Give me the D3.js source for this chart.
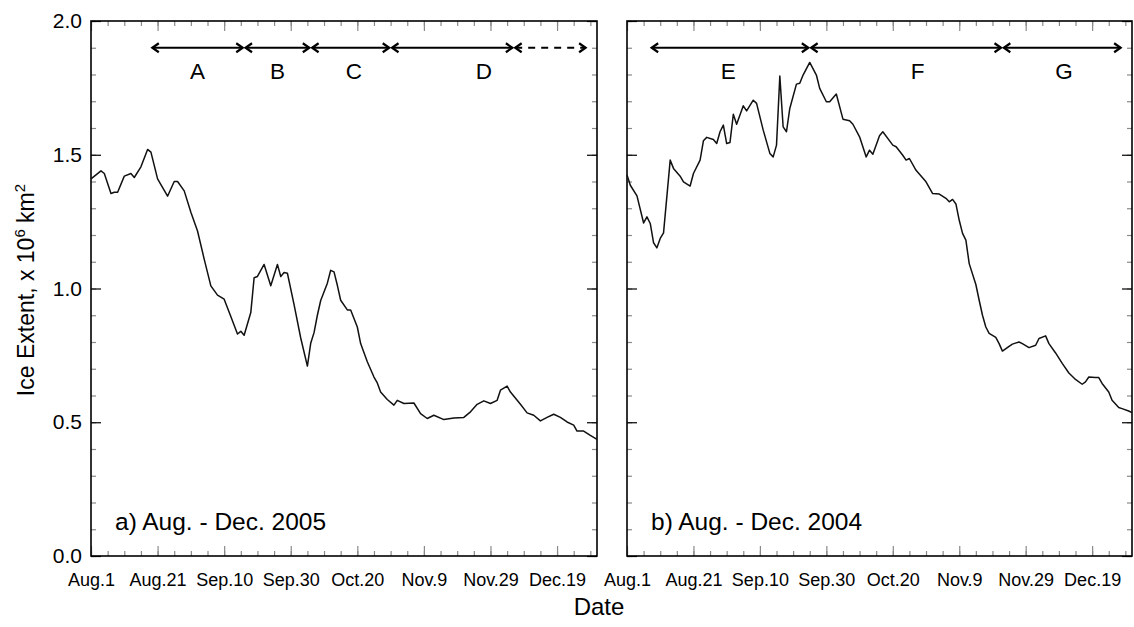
<!DOCTYPE html>
<html>
<head>
<meta charset="utf-8">
<script src="https://cdn.jsdelivr.net/npm/d3@7"></script>
<style>
  body { margin: 0; background: #fff; }
  text { font-family: "Liberation Sans", Arial, sans-serif; fill: #000; }
</style>
</head>
<body>
<svg id="chart" width="1134" height="627"></svg>
<script>
// Daily ice extent (x 10^6 km^2), day 0 = Aug. 1
const days2005 = [0,3,4,6,7,8,10,12,13,15,17,18,20,23,25,26,28,30,32,34,36,38,40,42,44,45,46,48,49,50,52,54,56,57,58,59,61,63,65,66,67,68,69,71,72,73,74,75,77,78,80,81,83,85,86,87,89,91,92,94,97,99,101,103,106,109,112,114,116,118,120,122,123,125,126,129,131,133,135,137,139,141,143,145,146,148,150,152];
const ice2005 = [1.41,1.44,1.43,1.355,1.36,1.36,1.42,1.43,1.415,1.455,1.52,1.51,1.41,1.345,1.40,1.40,1.365,1.285,1.215,1.11,1.01,0.975,0.96,0.895,0.83,0.84,0.825,0.91,1.04,1.045,1.09,1.01,1.09,1.045,1.06,1.057,0.94,0.815,0.71,0.795,0.835,0.90,0.955,1.02,1.068,1.062,1.012,0.956,0.92,0.92,0.856,0.794,0.726,0.669,0.647,0.613,0.585,0.564,0.582,0.57,0.572,0.532,0.514,0.526,0.51,0.516,0.518,0.539,0.567,0.58,0.57,0.582,0.62,0.635,0.613,0.567,0.535,0.526,0.505,0.518,0.53,0.518,0.501,0.489,0.467,0.467,0.451,0.436];

const days2004 = [0,1,3,5,6,7,8,9,10,11,13,14,16,17,19,20,22,23,24,26,27,28,29,30,31,32,33,35,36,38,39,41,43,44,45,46,47,48,49,51,52,53,55,57,58,60,61,63,65,67,68,70,72,73,74,76,77,80,81,83,84,85,87,90,92,94,96,97,98,99,100,101,102,103,105,106,107,108,109,111,112,113,115,116,118,119,121,123,124,126,127,129,131,133,135,137,138,139,141,142,143,145,146,148,149,151,152];
const ice2004 = [1.424,1.386,1.346,1.245,1.268,1.243,1.171,1.152,1.187,1.208,1.48,1.449,1.42,1.399,1.383,1.43,1.48,1.552,1.565,1.557,1.542,1.586,1.611,1.542,1.546,1.651,1.614,1.683,1.664,1.704,1.692,1.592,1.505,1.492,1.536,1.794,1.604,1.586,1.673,1.764,1.767,1.798,1.845,1.798,1.748,1.698,1.698,1.727,1.633,1.627,1.614,1.567,1.492,1.517,1.502,1.571,1.586,1.536,1.53,1.498,1.48,1.486,1.442,1.399,1.355,1.353,1.337,1.324,1.333,1.316,1.255,1.206,1.181,1.093,1.015,0.956,0.90,0.856,0.832,0.817,0.794,0.766,0.784,0.792,0.80,0.794,0.779,0.788,0.813,0.823,0.794,0.759,0.72,0.684,0.66,0.642,0.651,0.669,0.667,0.667,0.645,0.613,0.582,0.555,0.551,0.542,0.536];

// Axis ticks
const yTickValues = [0, 0.5, 1.0, 1.5, 2.0];
const dateTickDays = [0, 20, 40, 60, 80, 100, 120, 140];
const dateTickLabels = ["Aug.1","Aug.21","Sep.10","Sep.30","Oct.20","Nov.9","Nov.29","Dec.19"];

// Ice-period bands drawn as arrows at the top of each panel
const periodNames2005 = ["A","B","C","D",""];
const periodStart2005 = [18,46,66,90,127];
const periodEnd2005   = [46,66,90,127,149];
const periodLabelDay2005 = [32,56,79,118,null];
const periodDashed2005 = [false,false,false,false,true];

const periodNames2004 = ["E","F","G"];
const periodStart2004 = [7,55,113];
const periodEnd2004   = [55,113,149];
const periodLabelDay2004 = [30.5,87.5,131.5];
const periodDashed2004 = [false,false,false];

const svg = d3.select("#chart");
const plotTop = 21, plotBottom = 556;
const y = d3.scaleLinear().domain([0, 2]).range([plotBottom, plotTop]);

function drawPanel(opts) {
  const x = d3.scaleLinear().domain([0, 152]).range([opts.left, opts.right]);
  const g = svg.append("g");

  // minor ticks (5 days / 0.1)
  const minorX = d3.range(0, 153, 5);
  const minorY = d3.range(0, 2.0001, 0.1);
  const tickColor = "#8a8a8a";

  const styleTicks = (sel, color) => {
    sel.select(".domain").remove();
    sel.selectAll(".tick line").attr("stroke", color).attr("stroke-width", 1.2);
  };

  g.append("g").attr("transform", `translate(0,${plotBottom})`)
    .call(d3.axisBottom(x).tickValues(minorX).tickSize(-5).tickFormat(""))
    .call(s => styleTicks(s, tickColor));
  g.append("g").attr("transform", `translate(0,${plotTop})`)
    .call(d3.axisTop(x).tickValues(minorX).tickSize(-5).tickFormat(""))
    .call(s => styleTicks(s, tickColor));
  g.append("g").attr("transform", `translate(0,${plotTop})`)
    .call(d3.axisTop(x).tickValues(dateTickDays).tickSize(-10).tickFormat(""))
    .call(s => styleTicks(s, tickColor));

  // bottom major ticks with date labels
  const xb = g.append("g").attr("transform", `translate(0,${plotBottom})`)
    .call(d3.axisBottom(x).tickValues(dateTickDays).tickSize(-10).tickPadding(17)
      .tickFormat((d, i) => dateTickLabels[i]))
    .call(s => styleTicks(s, tickColor));
  xb.selectAll(".tick text").attr("font-size", 18).attr("fill", "#000")
    .attr("font-family", "Liberation Sans, Arial, sans-serif");

  // left and right y ticks
  g.append("g").attr("transform", `translate(${opts.left},0)`)
    .call(d3.axisLeft(y).tickValues(minorY).tickSize(-5).tickFormat(""))
    .call(s => styleTicks(s, tickColor));
  g.append("g").attr("transform", `translate(${opts.right},0)`)
    .call(d3.axisRight(y).tickValues(minorY).tickSize(-5).tickFormat(""))
    .call(s => styleTicks(s, tickColor));
  const yl = g.append("g").attr("transform", `translate(${opts.left},0)`)
    .call(d3.axisLeft(y).tickValues(yTickValues).tickSize(-10).tickPadding(9)
      .tickFormat(opts.yLabels ? d3.format(".1f") : ""))
    .call(s => styleTicks(s, "#000"));
  yl.selectAll(".tick text").attr("font-size", 21).attr("fill", "#000")
    .attr("font-family", "Liberation Sans, Arial, sans-serif");
  g.append("g").attr("transform", `translate(${opts.right},0)`)
    .call(d3.axisRight(y).tickValues(yTickValues).tickSize(-10).tickFormat(""))
    .call(s => styleTicks(s, "#000"));

  // frame
  g.append("rect")
    .attr("x", opts.left).attr("y", plotTop)
    .attr("width", opts.right - opts.left).attr("height", plotBottom - plotTop)
    .attr("fill", "none").attr("stroke", "#000").attr("stroke-width", 1.6);

  // ice extent line
  const pts = opts.days.map((d, i) => [d, opts.values[i]]);
  g.append("path")
    .datum(pts)
    .attr("fill", "none").attr("stroke", "#111").attr("stroke-width", 1.5)
    .attr("stroke-linejoin", "round")
    .attr("d", d3.line().x(d => x(d[0])).y(d => y(d[1])));

  // period arrows
  const ay = y(1.9);
  opts.names.forEach((name, i) => {
    const x0 = x(opts.starts[i]) + 1.4, x1 = x(opts.ends[i]) - 1.4;
    const ag = g.append("g").attr("stroke", "#000").attr("stroke-width", 2.2)
      .attr("fill", "none").attr("stroke-linecap", "butt");
    ag.append("line").attr("x1", x0).attr("x2", x1).attr("y1", ay).attr("y2", ay)
      .attr("stroke-dasharray", opts.dashed[i] ? "7,6" : null);
    ag.append("path").attr("d", `M${x0 + 6.5},${ay - 4.5}L${x0},${ay}L${x0 + 6.5},${ay + 4.5}`);
    ag.append("path").attr("d", `M${x1 - 6.5},${ay - 4.5}L${x1},${ay}L${x1 - 6.5},${ay + 4.5}`);
    if (name) {
      g.append("text").attr("x", x(opts.labelDays[i])).attr("y", ay + 31)
        .attr("text-anchor", "middle").attr("font-size", 22.5).text(name);
    }
  });

  // panel caption
  g.append("text").attr("x", opts.left + 24).attr("y", 530)
    .attr("font-size", 24.5).text(opts.caption);
}

drawPanel({
  left: 91, right: 597, yLabels: true,
  days: days2005, values: ice2005,
  names: periodNames2005, starts: periodStart2005, ends: periodEnd2005,
  labelDays: periodLabelDay2005, dashed: periodDashed2005,
  caption: "a) Aug. - Dec. 2005"
});
drawPanel({
  left: 627, right: 1132, yLabels: false,
  days: days2004, values: ice2004,
  names: periodNames2004, starts: periodStart2004, ends: periodEnd2004,
  labelDays: periodLabelDay2004, dashed: periodDashed2004,
  caption: "b) Aug. - Dec. 2004"
});

// axis titles
svg.append("text").attr("x", 599).attr("y", 615)
  .attr("text-anchor", "middle").attr("font-size", 24).text("Date");

const yt = svg.append("text")
  .attr("transform", "translate(34,290) rotate(-90)")
  .attr("text-anchor", "middle").attr("font-size", 23);
yt.append("tspan").text("Ice Extent, x 10");
yt.append("tspan").attr("font-size", 15).attr("dy", -9).text("6");
yt.append("tspan").attr("dy", 9).text(" km");
yt.append("tspan").attr("font-size", 15).attr("dy", -9).text("2");
</script>
</body>
</html>
